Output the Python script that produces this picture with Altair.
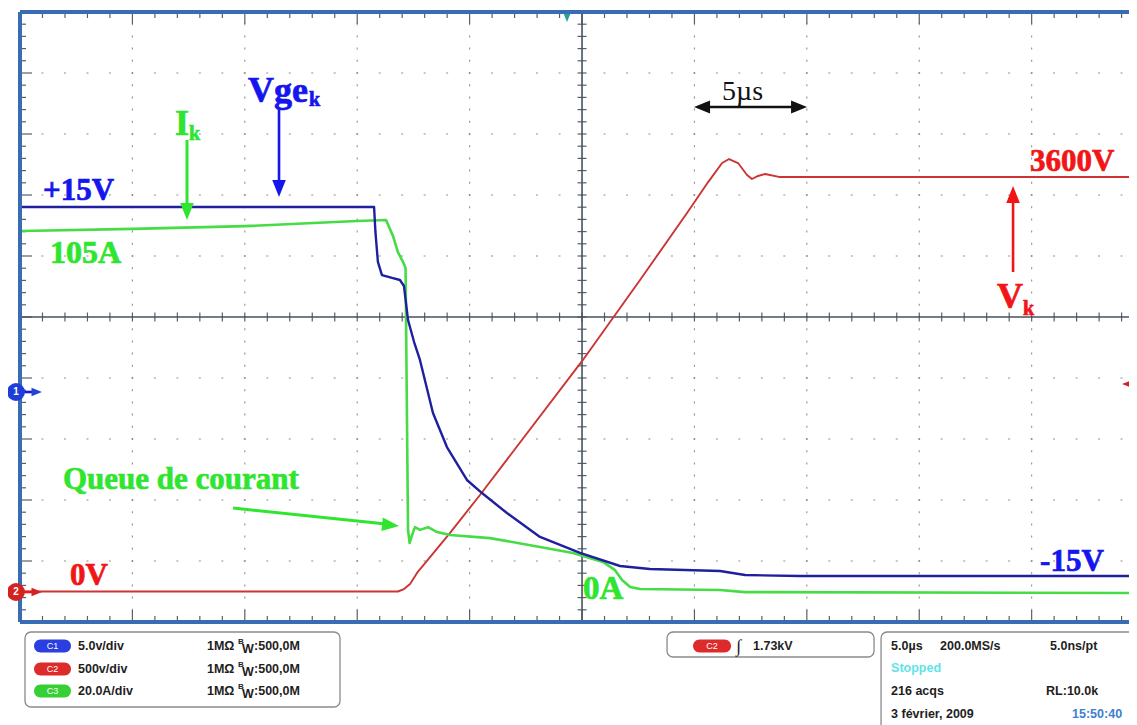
import altair as alt
import pandas as pd

# ---------------- oscilloscope settings ----------------
US_PER_DIV = 5.0                     # time base
VGE_PER_DIV, VGE_ZERO = 5.0, 3.75    # C1  (V/div, ground in divisions from bottom)
VK_PER_DIV, VK_ZERO = 500.0, 0.5     # C2
IK_PER_DIV, IK_ZERO = 20.0, 0.5      # C3
N_DIV_Y = 10
X_DIVS_SHOWN = 9.866                 # right part of the screen is cut off

# ---------------- traces (t in µs, 0 = screen centre) ----------------
vge_t = [-24.91, -18.0, -12.0, -9.25, -9.19, -9.08, -8.90, -8.45, -8.10, -7.92, -7.74, -7.47,
         -7.21, -6.63, -6.01, -5.12, -4.45, -3.34, -1.87, -0.09, 1.69, 3.02, 6.14, 7.25, 9.70, 24.69]
vge_v = [15.27, 15.27, 15.27, 15.27, 13.22, 10.76, 9.69, 9.45, 9.28, 8.79, 6.0, 4.20,
         2.73, -1.62, -4.41, -7.11, -8.18, -9.82, -11.78, -13.09, -14.16, -14.41, -14.57, -14.90, -14.98, -14.98]

ik_t = [-24.91, -19.97, -14.99, -10.01, -8.72, -8.41, -8.19, -7.96, -7.85, -7.74, -7.67, -7.56,
        -7.43, -7.21, -6.85, -6.45, -5.87, -4.09, -1.87, -0.40, 0.93, 1.47, 1.78, 2.14, 2.58, 6.14, 7.25, 24.69]
ik_a = [118.2, 118.9, 119.8, 121.5, 121.8, 116.6, 111.3, 108.0, 106.1, 20.2, 15.9, 18.5,
        21.1, 20.2, 21.1, 19.5, 18.5, 17.5, 14.6, 12.6, 9.7, 7.0, 3.8, 1.5, 0.8, 0.5, -0.2, -0.5]

vk_t = [-24.91, -8.19, -7.92, -7.65, -7.34, -5.87, -4.54, 0.04, 2.58, 4.67, 5.61, 6.23, 6.54,
        6.94, 7.34, 7.56, 7.83, 8.14, 8.76, 24.69]
vk_v = [0, 0, 20, 62, 152, 480, 791, 1898, 2553, 3102, 3356, 3512, 3545,
        3512, 3414, 3381, 3406, 3422, 3398, 3398]

# ---------------- layout helpers ----------------
DIV_PX_X, DIV_PX_Y = 112.4, 61.0
WIDTH = round(X_DIVS_SHOWN * DIV_PX_X)
HEIGHT = int(N_DIV_Y * DIV_PX_Y)


def gx(px):  # reference pixel -> screen divisions
    return (px - 20) / DIV_PX_X


def gy(py):
    return (622 - py) / DIV_PX_Y


def t_to_div(t):
    return 5 + t / US_PER_DIV


XS = alt.Scale(domain=[0, X_DIVS_SHOWN], nice=False, zero=False)
YS = alt.Scale(domain=[0, N_DIV_Y], nice=False, zero=False)


def X(f="x"):
    return alt.X(f"{f}:Q", scale=XS, axis=None)


def Y(f="y"):
    return alt.Y(f"{f}:Q", scale=YS, axis=None)


def seg_chart(rows, **mark):
    df = pd.DataFrame(rows, columns=["x", "x2", "y", "y2"])
    return alt.Chart(df).mark_rule(**mark).encode(x=X(), x2="x2:Q", y=Y(), y2="y2:Q")


# ---------------- grid ----------------
grid_h = [(0, X_DIVS_SHOWN, k, k) for k in range(1, 10) if k != 5]
grid_v = [(k, k, 0, N_DIV_Y) for k in range(1, 10) if k != 5]
grid_h_ch = seg_chart(grid_h, color="#8f8f8f", strokeWidth=1.1,
                      strokeDash=[2, DIV_PX_X / 5 - 2], strokeDashOffset=1)
grid_v_ch = seg_chart(grid_v, color="#8f8f8f", strokeWidth=1.1,
                      strokeDash=[2, DIV_PX_Y / 5 - 2], strokeDashOffset=1)

ticks = []
k = 0
while k * 0.2 <= X_DIVS_SHOWN + 1e-9:
    xv = k * 0.2
    L = (12 if k % 5 == 0 else 6) / DIV_PX_Y
    h = 4.5 / DIV_PX_Y
    ticks += [(xv, xv, N_DIV_Y, N_DIV_Y - L), (xv, xv, 0, L), (xv, xv, 5 - h, 5 + h)]
    k += 1
for k in range(51):
    yv = k * 0.2
    L = (12 if k % 5 == 0 else 6) / DIV_PX_X
    h = 4.5 / DIV_PX_X
    ticks += [(0, L, yv, yv), (5 - h, 5 + h, yv, yv)]
ticks_ch = seg_chart(ticks, color="#56606b", strokeWidth=1.2)

axes_ch = seg_chart([(5, 5, 0, N_DIV_Y), (0, X_DIVS_SHOWN, 5, 5)], color="#46525e", strokeWidth=1.6)
frame_ch = seg_chart([(0, 0, 0, N_DIV_Y), (0, X_DIVS_SHOWN, N_DIV_Y, N_DIV_Y), (0, X_DIVS_SHOWN, 0, 0)],
                     color="#3a6cb4", strokeWidth=4)

# ---------------- traces ----------------
def trace(ts, vals, per_div, zero, color, width):
    df = pd.DataFrame({
        "x": [t_to_div(t) for t in ts],
        "y": [zero + v / per_div for v in vals],
        "o": list(range(len(ts))),
    })
    return alt.Chart(df).mark_line(color=color, strokeWidth=width, strokeJoin="round").encode(
        x=X(), y=Y(), order="o:Q")


vk_ch = trace(vk_t, vk_v, VK_PER_DIV, VK_ZERO, "#cc3434", 1.9)
ik_ch = trace(ik_t, ik_a, IK_PER_DIV, IK_ZERO, "#45dc45", 2.6)
vge_ch = trace(vge_t, vge_v, VGE_PER_DIV, VGE_ZERO, "#1f1fa0", 2.4)

# ---------------- annotations ----------------
BLUE, GREEN, RED, BLACK = "#1515ee", "#2fe52f", "#f01616", "#111111"

ann_text = [("Vge", 248, 102, 36, BLUE), ("k", 309, 106, 20, BLUE), ("+15V", 43, 200, 31, BLUE),
            ("-15V", 1040, 571, 31, BLUE),
            ("I", 175, 135, 36, GREEN), ("k", 189, 140, 20, GREEN), ("105A", 50, 263, 32, GREEN),
            ("Queue de courant", 63, 489, 31, GREEN), ("0A", 583, 599, 33, GREEN),
            ("3600V", 1030, 171, 31, RED), ("V", 997, 308, 36, RED), ("k", 1023, 315, 20, RED),
            ("0V", 70, 585, 31, RED)]
ann_df = pd.DataFrame([dict(x=gx(a), y=gy(b), t=s, size=z, color=c) for s, a, b, z, c in ann_text])
ann_ch = alt.Chart(ann_df).mark_text(font="Liberation Serif", fontWeight="bold", align="left",
                                     baseline="alphabetic", strokeWidth=0.7).encode(
    x=X(), y=Y(), text="t:N", size=alt.Size("size:Q", scale=None),
    color=alt.Color("color:N", scale=None), stroke=alt.Stroke("color:N", scale=None))

us_df = pd.DataFrame([dict(x=gx(722), y=gy(100), t="5µs")])
us_ch = alt.Chart(us_df).mark_text(font="Liberation Serif", fontSize=28, align="left",
                                   baseline="alphabetic", color=BLACK).encode(x=X(), y=Y(), text="t:N")

# arrow shafts
def shafts(rows, color, width):
    return seg_chart([(gx(a), gx(c), gy(b), gy(d)) for a, b, c, d in rows], color=color, strokeWidth=width)


sh_blue = shafts([(279, 107, 279, 185), (22, 392, 34, 392)], BLUE, 2.6)
sh_green = shafts([(187, 140, 187, 207), (233, 508, 386, 524)], GREEN, 3)
sh_red = shafts([(1013, 272, 1013, 199), (22, 592, 34, 592)], RED, 2.6)
sh_black = shafts([(700, 107, 801, 107)], BLACK, 2.6)

ARROW = "M0,0L-0.8,-2L0.8,-2Z"  # tip at the anchor, pointing down
heads = [(279, 197, 0, BLUE, 289), (187, 220, 0, GREEN, 289), (1013, 186, 180, RED, 289),
         (399, 526, 276, GREEN, 289), (694, 107, 90, BLACK, 256), (807, 107, 270, BLACK, 256),
         (42, 392, 270, "#2346d0", 110), (42, 592, 270, "#d42222", 110),
         (567, 22, 0, "#2a9d9d", 70), (1122, 384, 90, "#d42222", 70)]
heads_df = pd.DataFrame([dict(x=gx(a), y=gy(b), ang=g, color=c, size=s) for a, b, g, c, s in heads])
heads_ch = alt.Chart(heads_df).mark_point(shape=ARROW, filled=True, opacity=1, strokeWidth=0).encode(
    x=X(), y=Y(), angle=alt.Angle("ang:Q", scale=None), color=alt.Color("color:N", scale=None),
    size=alt.Size("size:Q", scale=None))

# channel ground markers
marks_df = pd.DataFrame([dict(x=gx(16), y=gy(392), t="1", color="#1d3fd6"),
                         dict(x=gx(16), y=gy(592), t="2", color="#d42222")])
circ_ch = alt.Chart(marks_df).mark_circle(size=320, opacity=1).encode(
    x=X(), y=Y(), color=alt.Color("color:N", scale=None))
circ_txt = alt.Chart(marks_df).mark_text(font="Liberation Sans", fontWeight="bold", fontSize=10,
                                         color="white", align="center", baseline="middle").encode(
    x=X(), y=Y(), text="t:N")

# ---------------- status bar ----------------
panels = [(25, 340, 632, 707), (667, 874, 632, 657), (881, 1145, 632, 735)]
panel_df = pd.DataFrame([dict(x=gx(a), x2=gx(b), y=gy(c), y2=gy(d)) for a, b, c, d in panels])
panel_ch = alt.Chart(panel_df).mark_rect(fill="white", stroke="#8a8a8a", strokeWidth=1.3,
                                         cornerRadius=6).encode(x=X(), x2="x2:Q", y=Y(), y2="y2:Q")

pills = [("C1", 34, 71, 646, "#2b3fe0"), ("C2", 34, 71, 669, "#dd2b2b"), ("C3", 34, 71, 691, "#36cf36"),
         ("C2", 693, 731, 646, "#dd2b2b")]
pill_df = pd.DataFrame([dict(x=gx(a), x2=gx(b), xc=gx((a + b) / 2), y=gy(r - 6.5), y2=gy(r + 6.5), yc=gy(r),
                             t=s, color=c) for s, a, b, r, c in pills])
pill_ch = alt.Chart(pill_df).mark_rect(cornerRadius=6.5).encode(
    x=X(), x2="x2:Q", y=Y(), y2="y2:Q", fill=alt.Fill("color:N", scale=None))
pill_txt = alt.Chart(pill_df).mark_text(font="Liberation Sans", fontSize=9, color="white",
                                        align="center", baseline="middle").encode(
    x=X("xc"), y=Y("yc"), text="t:N")

ROW1, ROW2, ROW3, ROW4 = 646, 669, 691, 714
TXT, CYAN, TIMEBLUE = "#1e1e1e", "#5fe3ea", "#3c80d2"
status = [("5.0v/div", 78, ROW1, 12.5, TXT), ("500v/div", 78, ROW2, 12.5, TXT), ("20.0A/div", 78, ROW3, 12.5, TXT)]
for r in (ROW1, ROW2, ROW3):
    status += [("1MΩ", 207, r, 12.5, TXT), ("B", 238, r - 4, 8, TXT), ("W", 242, r + 3, 12.5, TXT),
               (":500,0M", 254, r, 12.5, TXT)]
status += [("1.73kV", 753, ROW1, 12.5, TXT),
           ("5.0µs", 891, ROW1, 12.5, TXT), ("200.0MS/s", 940, ROW1, 12.5, TXT), ("5.0ns/pt", 1050, ROW1, 12.5, TXT),
           ("Stopped", 891, 668, 12.5, CYAN), ("216 acqs", 891, ROW3, 12.5, TXT), ("RL:10.0k", 1046, ROW3, 12.5, TXT),
           ("3 février, 2009", 891, ROW4, 12.5, TXT), ("15:50:40", 1072, ROW4, 12.5, TIMEBLUE)]
status_df = pd.DataFrame([dict(x=gx(a), y=gy(b), t=s, size=z, color=c) for s, a, b, z, c in status])
status_ch = alt.Chart(status_df).mark_text(font="Liberation Sans", fontWeight="bold", align="left",
                                           baseline="middle").encode(
    x=X(), y=Y(), text="t:N", size=alt.Size("size:Q", scale=None), color=alt.Color("color:N", scale=None))
edge_df = pd.DataFrame([dict(x=gx(736), y=gy(647), t="∫")])
edge_ch = alt.Chart(edge_df).mark_text(font="Liberation Serif", fontSize=18, fontStyle="italic",
                                       fontWeight="bold", align="left", baseline="middle",
                                       color=TXT).encode(x=X(), y=Y(), text="t:N")

chart = alt.layer(
    grid_h_ch, grid_v_ch, ticks_ch, axes_ch,
    vk_ch, ik_ch, vge_ch,
    frame_ch,
    sh_blue, sh_green, sh_red, sh_black, heads_ch,
    circ_ch, circ_txt,
    ann_ch, us_ch,
    panel_ch, pill_ch, pill_txt, status_ch, edge_ch,
).properties(
    width=WIDTH, height=HEIGHT,
    padding={"left": 12, "top": 4, "right": 0, "bottom": 103},
    autosize=alt.AutoSizeParams(type="none"),
    background="white",
).configure_view(strokeWidth=0)

chart.save("out.html", embed_options={"renderer": "svg", "actions": False})
